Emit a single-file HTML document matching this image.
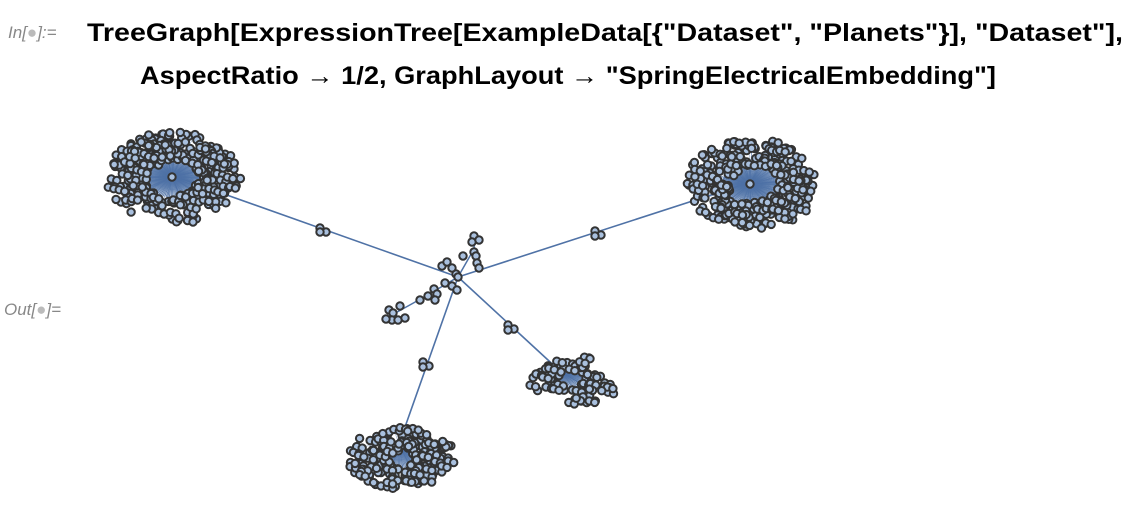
<!DOCTYPE html>
<html><head><meta charset="utf-8"><style>
html,body{margin:0;padding:0;background:#fff;width:1126px;height:508px;overflow:hidden}
svg{display:block}
</style></head><body>
<svg id="s" width="1126" height="508" viewBox="0 0 1126 508" xmlns="http://www.w3.org/2000/svg">
<defs><marker id="ar" viewBox="0 0 10 10" refX="9" refY="5" markerWidth="6" markerHeight="6" orient="auto"><path d="M0,1 L10,5 L0,9 z" fill="#5a7aa8"/></marker></defs>
<text x="8" y="38" font-family="Liberation Sans, sans-serif" font-style="italic" font-size="17" fill="#888">In[<tspan fill="#bbb">●</tspan>]:=</text>
<text x="87" y="41" font-family="Liberation Sans, sans-serif" font-weight="bold" font-size="25" textLength="1036" lengthAdjust="spacingAndGlyphs">TreeGraph[ExpressionTree[ExampleData[{"Dataset", "Planets"}], "Dataset"],</text>
<text x="140" y="84" font-family="Liberation Sans, sans-serif" font-weight="bold" font-size="25" textLength="856" lengthAdjust="spacingAndGlyphs">AspectRatio → 1/2, GraphLayout → "SpringElectricalEmbedding"]</text>
<text x="4" y="315" font-family="Liberation Sans, sans-serif" font-style="italic" font-size="17" fill="#888">Out[<tspan fill="#bbb">●</tspan>]=</text>
<g id="e" stroke="#4f72a6" stroke-width="1.5" fill="none"></g>
<g id="n" fill="#a9c0de" stroke="#333" stroke-width="2"></g>
</svg>
<script>
var seed=7;function r(){seed=(seed*16807)%2147483647;return seed/2147483647;}
var E=document.getElementById('e'),N=document.getElementById('n'),ns="http://www.w3.org/2000/svg";
function line(x1,y1,x2,y2,w,op,arrow){var l=document.createElementNS(ns,'line');l.setAttribute('x1',x1);l.setAttribute('y1',y1);l.setAttribute('x2',x2);l.setAttribute('y2',y2);if(w)l.setAttribute('stroke-width',w);if(op)l.setAttribute('stroke-opacity',op);if(arrow)l.setAttribute('marker-end','url(#ar)');E.appendChild(l);}
function node(x,y){var c=document.createElementNS(ns,'circle');c.setAttribute('cx',x.toFixed(1));c.setAttribute('cy',y.toFixed(1));c.setAttribute('r',3.7);N.appendChild(c);}
function cluster(cx,cy,rx,ry,rin,count,ox,oy,spokes){
 for(var k=0;k<spokes;k++){var a=k/spokes*Math.PI*2;line(cx,cy,cx+ox+Math.cos(a)*rx*rin*1.1,cy+oy+Math.sin(a)*ry*rin*1.1,1,0.9);}
 for(var i=0;i<count;i++){var a=r()*Math.PI*2;var t=rin+(1-rin)*r();
  var x=cx+ox+Math.cos(a)*rx*t,y=cy+oy+Math.sin(a)*ry*t;
  if(r()<0.3){line(cx,cy,x,y,0.6,0.6);}
  node(x,y);if(r()<0.6)node(x+5.5,y+1.5);}
 node(cx,cy);}
var hx=458,hy=277;
line(hx,hy,176,177,1.6,1);line(hx,hy,745,184,1.6,1);line(hx,hy,561,372,1.6,1,true);line(hx,hy,399,444,1.6,1,true);
line(hx,hy,426,296);line(426,296,390,316);line(390,316,399,322);line(hx,hy,474,249);line(474,249,475,236);
cluster(172,177,66,46,0.4,260,0,0,110);
cluster(750,184,64,46,0.4,255,0,0,110);
cluster(561,372,42,26,0.3,60,10,8,40);
cluster(399,444,52,31,0.3,150,0,14,70);
[[320,228],[326,232],[320,232],[595,231],[601,235],[595,236],[508,325],[514,329],[508,330],[423,362],[429,366],[423,367],
 [474,236],[472,242],[479,240],[474,252],[463,256],[476,256],[477,263],[479,268],[456,274],[442,266],[447,262],[452,268],
 [445,283],[452,286],[457,290],[434,289],[437,294],[428,296],[435,300],[420,300],[400,306],[389,310],[393,313],[392,320],[398,320],[405,318],[386,319]
].forEach(function(p){node(p[0],p[1]);});
node(hx,hy);
</script>
</body></html>
